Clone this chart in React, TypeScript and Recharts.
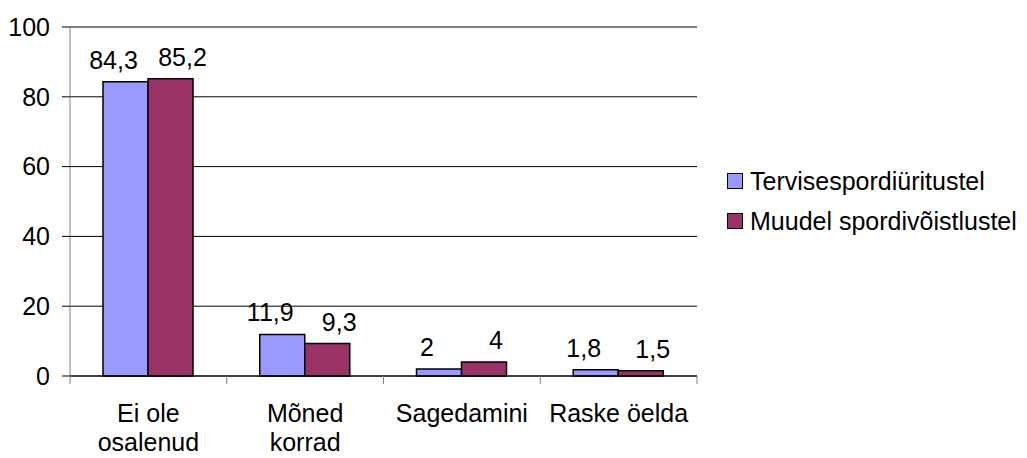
import React from 'react';
import { BarChart, Bar, XAxis, YAxis, CartesianGrid, LabelList } from 'recharts';

const categories = ['Ei ole\nosalenud', 'Mõned\nkorrad', 'Sagedamini', 'Raske öelda'];
const tervise = [84.3, 11.9, 2, 1.8];
const muudel = [85.2, 9.3, 4, 1.5];
const yTicks = [0, 20, 40, 60, 80, 100];

const seriesNames = ['Tervisespordiüritustel', 'Muudel spordivõistlustel'];
const colors = ['#9999FF', '#993366'];

const data = categories.map((c, i) => ({ name: c, tervise: tervise[i], muudel: muudel[i] }));

const W = 1027;
const H = 458;
const margin = { top: 27, right: 330, bottom: 0, left: 0 };
const yAxisW = 70;
const xAxisH = 82;
const font = '"Liberation Sans", Arial, sans-serif';
const fs = 25;
const bandW = (W - margin.left - margin.right - yAxisW) / categories.length;

// category label plus the tick marks between categories (Excel style)
function CategoryTick(props: any) {
  const { x, y, payload, index } = props;
  const lines = String(payload.value).split('\n');
  const left = x - bandW / 2;
  return (
    <g>
      <line x1={left} x2={left} y1={y - 8} y2={y} stroke="#808080" />
      {index === categories.length - 1 && (
        <line x1={left + bandW} x2={left + bandW} y1={y - 8} y2={y} stroke="#808080" />
      )}
      <text x={x} y={y} textAnchor="middle" fontSize={fs} fontFamily={font} fill="#000">
        {lines.map((l, i) => (
          <tspan key={i} x={x} dy={i === 0 ? 38 : 29}>
            {l}
          </tspan>
        ))}
      </text>
    </g>
  );
}

const fmtLabel = (v: any) => String(v).replace('.', ',');

function LegendBox() {
  return (
    <div
      style={{
        position: 'absolute',
        left: 727,
        top: 161,
        fontFamily: font,
        fontSize: fs,
        color: '#000',
        whiteSpace: 'nowrap',
      }}
    >
      {seriesNames.map((n, i) => (
        <div key={n} style={{ display: 'flex', alignItems: 'center', height: 40 }}>
          <div
            style={{
              width: 14,
              height: 14,
              background: colors[i],
              border: '1.5px solid #000',
              marginRight: 7,
            }}
          />
          <span>{n}</span>
        </div>
      ))}
    </div>
  );
}

export default function App() {
  return (
    <div style={{ position: 'absolute', left: 0, top: 0, width: W, height: H, background: '#fff' }}>
      <BarChart width={W} height={H} data={data} margin={margin} barGap={0} barSize={45}>
        <CartesianGrid vertical={false} stroke="#000" />
        <XAxis
          dataKey="name"
          height={xAxisH}
          interval={0}
          tickSize={8}
          tickMargin={0}
          tickLine={false}
          axisLine={{ stroke: '#000' }}
          tick={<CategoryTick />}
        />
        <YAxis
          width={yAxisW}
          domain={[0, 100]}
          ticks={yTicks}
          interval={0}
          tickSize={8}
          tickMargin={12}
          axisLine={{ stroke: '#808080' }}
          tickLine={{ stroke: '#000' }}
          tick={{ fontSize: fs, fontFamily: font, fill: '#000' }}
        />
        <YAxis
          yAxisId="right"
          orientation="right"
          width={0}
          domain={[0, 100]}
          tick={false}
          tickLine={false}
          axisLine={{ stroke: '#808080', strokeWidth: 1.5 }}
        />
        <Bar dataKey="tervise" name={seriesNames[0]} fill={colors[0]} stroke="#000" strokeWidth={1.5} isAnimationActive={false}>
          <LabelList dataKey="tervise" position="top" offset={13} dx={-12} formatter={fmtLabel} fontSize={fs} fontFamily={font} fill="#000" />
        </Bar>
        <Bar dataKey="muudel" name={seriesNames[1]} fill={colors[1]} stroke="#000" strokeWidth={1.5} isAnimationActive={false}>
          <LabelList dataKey="muudel" position="top" offset={13} dx={12} formatter={fmtLabel} fontSize={fs} fontFamily={font} fill="#000" />
        </Bar>
      </BarChart>
      <LegendBox />
    </div>
  );
}
